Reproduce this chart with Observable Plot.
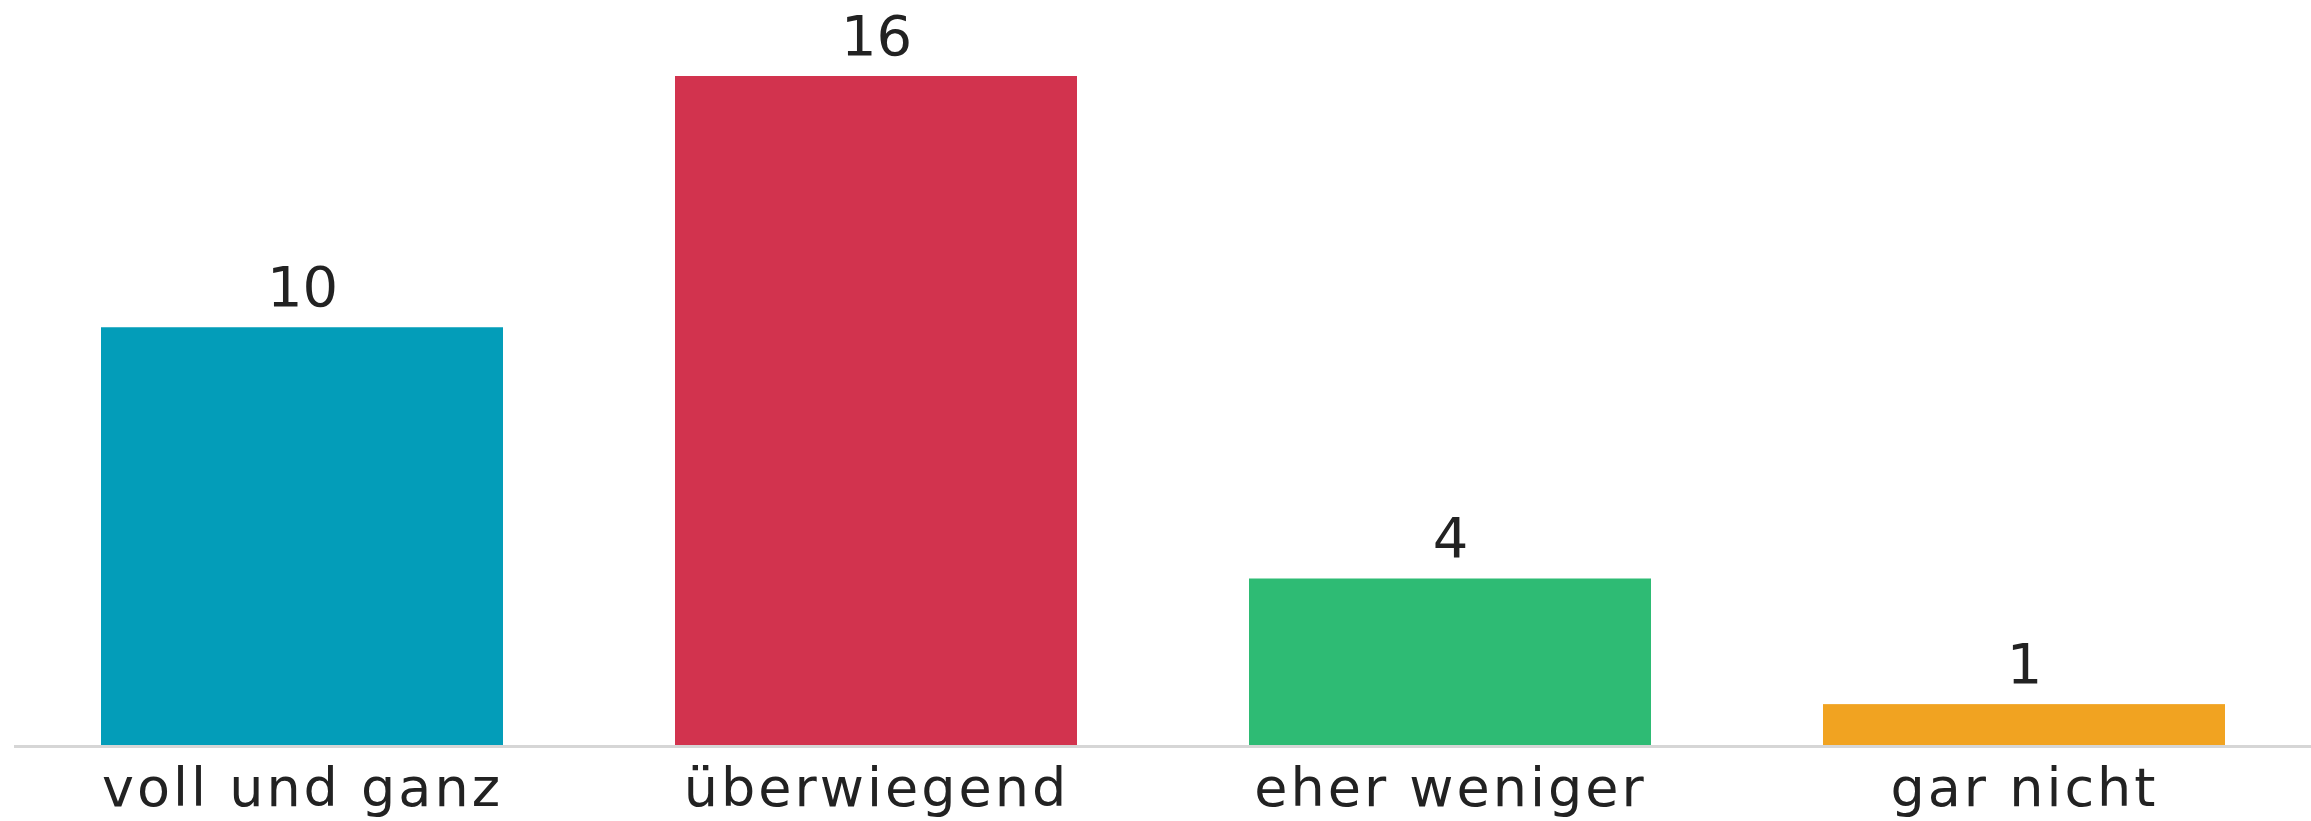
<!DOCTYPE html>
<html>
<head>
<meta charset="utf-8">
<script src="https://cdn.jsdelivr.net/npm/d3@7"></script>
<script src="https://cdn.jsdelivr.net/npm/@observablehq/plot@0.6"></script>
<style>
  html, body { margin: 0; padding: 0; background: #ffffff; }
  #chart svg { display: block; }
  #chart g[aria-label="x-axis tick label"] text { letter-spacing: 3px; }
</style>
</head>
<body>
<div id="chart"></div>
<script>
const categories = ["voll und ganz", "überwiegend", "eher weniger", "gar nicht"];
const counts = [10, 16, 4, 1];
const colors = ["#039db9", "#d2334e", "#2ebb74", "#f1a321"];

const data = categories.map((c, i) => ({category: c, count: counts[i]}));

const chart = Plot.plot({
  width: 2311,
  height: 821,
  marginTop: 76,
  marginBottom: 75,
  marginLeft: 14,
  marginRight: 0,
  style: {fontFamily: "'DejaVu Sans', sans-serif", color: "#222222", background: "#ffffff"},
  x: {domain: categories, paddingInner: 0.3, paddingOuter: 0.15, label: null},
  y: {domain: [0, 16], axis: null},
  color: {domain: categories, range: colors},
  marks: [
    Plot.barY(data, {x: "category", y: "count", fill: "category"}),
    Plot.ruleY([0], {stroke: "#d6d6d6", strokeWidth: 3}),
    Plot.text(data, {x: "category", y: "count", text: d => String(d.count), lineAnchor: "bottom", dy: -22, fontSize: 56, fill: "#222222"}),
    Plot.axisX({tickSize: 0, tickPadding: 21, fontSize: 54, fill: "#222222", label: null})
  ]
});
document.getElementById("chart").appendChild(chart);
</script>
</body>
</html>
